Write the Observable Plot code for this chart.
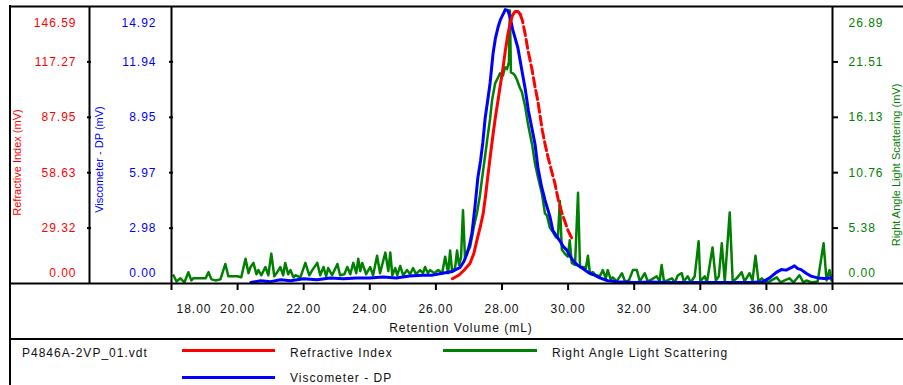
<!DOCTYPE html>
<html><head><meta charset="utf-8">
<script src="https://cdn.jsdelivr.net/npm/d3@7"></script>
<script src="https://cdn.jsdelivr.net/npm/@observablehq/plot@0.6"></script>
<style>
body{margin:0;background:#fff;}
#wrap{position:relative;width:903px;height:385px;overflow:hidden;font-family:"Liberation Sans",Arial,sans-serif;background:#fff;}
#wrap svg{position:absolute;left:0;top:0;}
#leftline{position:absolute;left:9px;top:5px;width:2px;height:380px;background:#000;}
#legline{position:absolute;left:10px;top:338px;width:893px;height:2px;background:#000;}
#legend{position:absolute;left:0;top:339px;width:903px;height:46px;font-size:12px;letter-spacing:1px;color:#111;}
.lg-line{position:absolute;height:3px;}
.lg-text{position:absolute;line-height:14px;white-space:nowrap;}
</style></head>
<body>
<div id="wrap">
  <div id="plots"></div>
  <div id="leftline"></div>
  <div id="legline"></div>
  <div id="legend"></div>
</div>
<script>
// ---- data ----
const fileName = "P4846A-2VP_01.vdt";
const seriesNames = ["Refractive Index", "Viscometer - DP", "Right Angle Light Scattering"];
const seriesColors = ["#ff0000", "#0000ff", "#008000"];
const yTitles = ["Refractive Index (mV)", "Viscometer - DP (mV)", "Right Angle Light Scattering (mV)"];
const xTitle = "Retention Volume (mL)";
const xTicks = [18, 20, 22, 24, 26, 28, 30, 32, 34, 36, 38];
const riTicks = [0, 29.32, 58.63, 87.95, 117.27, 146.59];
const dpTicks = [0, 2.98, 5.97, 8.95, 11.94, 14.92];
const lsTicks = [0, 5.38, 10.76, 16.13, 21.51, 26.89];

const riX = [26.50,26.70,26.85,27.03,27.15,27.24,27.33,27.43,27.50,27.58,27.65,27.73,27.80,27.88,27.95,28.03,28.10,28.18,28.25,28.32,28.40,28.48,28.55,28.62,28.70,28.79,28.90,29.00,29.08,29.15,29.22,29.30,29.39,29.50,29.60,29.70,29.81,29.90,30.00,30.08,30.15];
const riY = [2.5,4.5,7.0,10.6,16,22.8,29,37,46,58,68,79,88,97,105,114,123,132,138,142,144,144,142.5,139,132,123,114,104,97,89,81,74,67,59.5,53,44.5,37.5,33,28,25,23];

const dpX = [20.40,20.70,21.00,21.30,21.60,22.00,22.40,22.80,23.20,23.60,24.00,24.40,24.80,25.20,25.60,25.90,26.20,26.50,26.73,26.85,26.94,27.02,27.09,27.18,27.27,27.35,27.42,27.49,27.57,27.64,27.73,27.80,27.88,27.95,28.03,28.10,28.18,28.25,28.32,28.40,28.48,28.55,28.62,28.70,28.80,28.90,29.00,29.09,29.20,29.30,29.45,29.54,29.65,29.75,29.85,29.96,30.05,30.15,30.28,30.40,30.53,30.66,30.80,30.96,31.20,31.50,32.00,32.50,33.00,33.50,34.00,34.50,35.00,35.50,35.90,36.10,36.30,36.45,36.60,36.75,36.85,36.95,37.05,37.20,37.35,37.55,37.75,37.97];
const dpY = [0.05,0.15,0.1,0.2,0.15,0.25,0.2,0.3,0.25,0.3,0.3,0.35,0.3,0.4,0.45,0.45,0.55,0.65,0.86,1.2,1.6,2.1,2.7,4.1,5.7,6.6,7.6,8.9,9.9,10.8,12.4,13.2,13.8,14.2,14.5,14.75,14.7,14.3,13.7,13.2,12.7,12.0,11.3,10.5,9.3,8.4,7.5,6.2,5.2,4.5,3.6,2.85,2.55,2.3,2.0,1.8,1.5,1.24,1.0,0.86,0.7,0.54,0.45,0.3,0.15,0.1,0.05,0.08,0.05,0.05,0.05,0.05,0.05,0.05,0.1,0.3,0.6,0.75,0.72,0.85,0.95,0.8,0.75,0.55,0.4,0.3,0.27,0.3];

const lsX = [18.06,18.15,18.27,18.39,18.51,18.60,18.66,18.88,19.03,19.12,19.21,19.33,19.48,19.63,19.72,19.87,19.99,20.11,20.24,20.33,20.39,20.48,20.57,20.63,20.72,20.84,20.93,21.02,21.11,21.20,21.29,21.38,21.44,21.53,21.60,21.69,21.75,21.90,22.05,22.17,22.26,22.41,22.50,22.60,22.68,22.74,22.86,23.02,23.10,23.23,23.32,23.41,23.50,23.59,23.65,23.71,23.77,23.89,24.01,24.10,24.22,24.31,24.47,24.56,24.62,24.68,24.77,24.83,24.92,25.01,25.13,25.22,25.31,25.40,25.52,25.61,25.67,25.76,25.82,25.95,26.07,26.19,26.28,26.37,26.43,26.49,26.58,26.64,26.70,26.76,26.82,26.88,26.94,27.03,27.09,27.15,27.24,27.33,27.40,27.49,27.55,27.64,27.70,27.79,27.88,27.94,28.03,28.09,28.15,28.21,28.24,28.27,28.33,28.39,28.45,28.54,28.60,28.70,28.79,28.91,29.00,29.09,29.21,29.30,29.36,29.45,29.54,29.63,29.69,29.75,29.81,29.90,29.99,30.05,30.11,30.21,30.30,30.36,30.45,30.54,30.60,30.66,30.75,30.84,30.96,31.05,31.14,31.20,31.29,31.35,31.47,31.63,31.72,31.84,31.96,32.08,32.17,32.32,32.41,32.53,32.68,32.77,32.83,32.90,33.00,33.14,33.23,33.32,33.44,33.50,33.62,33.71,33.83,33.95,34.00,34.13,34.20,34.37,34.47,34.56,34.65,34.74,34.89,34.98,35.10,35.25,35.34,35.49,35.58,35.67,35.76,35.86,35.98,36.10,36.31,36.43,36.55,36.70,36.82,37.00,37.12,37.21,37.37,37.55,37.73,37.82,37.91,37.97];
const lsY = [0.8,0.2,0.5,0.1,1.1,0.3,0.5,0.5,0.5,1.1,0.4,0.3,0.4,1.9,0.7,0.7,0.7,0.6,2.4,1.0,1.6,2.0,0.9,1.3,0.8,1.6,0.8,2.9,0.7,1.1,1.6,0.8,2.0,0.9,1.3,0.6,0.8,0.6,2.0,0.8,1.3,2.0,0.8,1.6,0.7,1.5,0.8,1.9,0.8,0.9,1.6,0.9,2.0,1.0,2.4,1.2,2.0,0.9,1.6,0.8,2.7,1.0,3.0,1.2,3.0,0.8,1.5,0.8,1.7,0.8,1.3,0.9,1.5,0.9,1.3,1.0,1.6,1.0,1.3,1.0,1.3,1.0,2.6,1.0,3.2,1.2,1.5,3.2,1.8,2.5,7.1,2.5,3.0,3.5,4.5,5.5,6.8,8.5,10.3,12.4,13.9,16.0,17.8,19.4,20.0,20.4,20.2,21.0,20.8,21.5,26.5,20.5,20.4,20.2,19.8,19.0,18.6,17.2,15.4,13.5,11.6,10.3,8.7,6.8,6.6,5.4,5.0,4.5,4.4,8.0,3.3,2.9,2.6,4.2,2.0,1.8,8.8,1.6,1.6,1.5,2.7,1.0,1.1,0.8,0.7,1.3,0.5,1.3,0.4,0.6,0.2,1.0,0.2,0.3,1.3,1.3,0.2,1.0,0.2,0.4,0.7,0.2,1.8,0.2,0.3,0.5,0.1,0.8,1.0,0.2,0.7,0.1,0.7,4.1,0.2,0.7,0.1,3.5,0.3,0.7,3.9,0.2,6.9,0.2,0.5,1.1,0.2,1.0,0.3,2.7,0.2,0.5,0.1,0.2,0.6,0.1,0.3,0.5,0.1,0.8,0.1,0.3,0.1,0.2,3.9,0.3,1.3,0.3];

// ---- tables ----
const ri = riX.map((x, i) => ({x, y: riY[i]}));
const dp = dpX.map((x, i) => ({x, y: dpY[i]}));
const ls = lsX.map((x, i) => ({x, y: lsY[i]}));

// ---- layout ----
const W = 903, H = 339;
const M = {top: 6, right: 71, bottom: 56, left: 171};
const frameW = W - M.left - M.right;
const frameH = H - M.top - M.bottom;
const fmt = d => d.toFixed(2);
const BLACK = "#000";
const TXT = "#111";

function makePlot(yMax, marks) {
  return Plot.plot({
    width: W, height: H,
    marginTop: M.top, marginRight: M.right, marginBottom: M.bottom, marginLeft: M.left,
    x: {domain: [xTicks[0], xTicks[xTicks.length - 1]], axis: null},
    y: {domain: [0, yMax], axis: null},
    style: {background: "transparent", fontFamily: "'Liberation Sans', Arial, sans-serif", fontSize: "12px", letterSpacing: "1px", overflow: "visible"},
    marks
  });
}

function axisLabels(ticks, color, anchor, dx, textAnchor) {
  const n = ticks.length;
  const common = {y: d => d, text: fmt, frameAnchor: anchor, dx, textAnchor, fill: color};
  return [
    Plot.text(ticks.slice(1, n - 1), common),
    Plot.text([ticks[0]], {...common, dy: -10}),
    Plot.text([ticks[n - 1]], {...common, dy: 17})
  ];
}

function yTitle(label, color, anchor, dx, dy) {
  return Plot.text([label], {text: d => d, frameAnchor: anchor, textAnchor: "middle", lineAnchor: "middle",
    rotate: -90, dx, dy, fill: color, fontSize: 11});
}

// light scattering (bottom layer, right axis)
const plotLS = makePlot(lsTicks[lsTicks.length - 1], [
  Plot.line(ls, {x: "x", y: "y", stroke: seriesColors[2], strokeWidth: 2.5}),
  Plot.ruleX([xTicks[xTicks.length - 1]], {stroke: BLACK, strokeWidth: 2}),
  Plot.tickY(lsTicks.slice(1, -1), {y: d => d, insetLeft: frameW - 6, dx: 6, stroke: BLACK, strokeWidth: 2}),
  ...axisLabels(lsTicks, seriesColors[2], "right", 16, "start"),
  yTitle(yTitles[2], seriesColors[2], "right", 64, 20)
]);

// viscometer
const plotDP = makePlot(dpTicks[dpTicks.length - 1], [
  Plot.line(dp, {x: "x", y: "y", stroke: seriesColors[1], strokeWidth: 3}),
  Plot.tickY(dpTicks.slice(1, -1), {y: d => d, insetRight: frameW - 4, dx: -2, stroke: BLACK, strokeWidth: 2}),
  ...axisLabels(dpTicks, seriesColors[1], "left", -15, "end"),
  yTitle(yTitles[1], seriesColors[1], "left", -72, 14.5)
]);

// refractive index (top layer, frame and x axis)
const plotRI = makePlot(riTicks[riTicks.length - 1], [
  Plot.ruleY([riTicks[0], riTicks[riTicks.length - 1]], {y: d => d, insetLeft: -(M.left - 10), insetRight: -M.right, stroke: BLACK, strokeWidth: 2}),
  Plot.ruleX([xTicks[0]], {stroke: BLACK, strokeWidth: 2}),
  Plot.ruleX([xTicks[0]], {dx: -82, stroke: BLACK, strokeWidth: 2}),
  Plot.tickY(riTicks.slice(1, -1), {y: d => d, insetRight: frameW - 4, dx: -84, stroke: BLACK, strokeWidth: 2}),
  Plot.tickX(xTicks, {x: d => d, insetTop: frameH - 7, dy: 7, stroke: BLACK, strokeWidth: 2}),
  Plot.line(ri.filter(d => d.x <= 28.55), {x: "x", y: "y", stroke: seriesColors[0], strokeWidth: 3}),
  Plot.line(ri.filter(d => d.x >= 28.55), {x: "x", y: "y", stroke: seriesColors[0], strokeWidth: 3, strokeDasharray: "9,4"}),
  ...axisLabels(riTicks, seriesColors[0], "left", -95, "end"),
  yTitle(yTitles[0], seriesColors[0], "left", -154, 17.5),
  Plot.text(xTicks.slice(1, -1), {x: d => d, text: fmt, frameAnchor: "bottom", dy: 29, fill: TXT}),
  Plot.text([xTicks[0]], {x: d => d, text: fmt, frameAnchor: "bottom", dy: 29, dx: 5, textAnchor: "start", fill: TXT}),
  Plot.text([xTicks[xTicks.length - 1]], {x: d => d, text: fmt, frameAnchor: "bottom", dy: 29, dx: -4, textAnchor: "end", fill: TXT}),
  Plot.text([xTitle], {text: d => d, frameAnchor: "bottom", dy: 48, dx: -41, fill: TXT})
]);

const holder = document.getElementById("plots");
[plotLS, plotDP, plotRI].forEach(p => holder.appendChild(p));
// rotated axis titles are narrower in the original
d3.selectAll("#plots svg text").filter(function() { return yTitles.includes(this.textContent); })
  .style("letter-spacing", "0px");

// ---- legend ----
const legend = d3.select("#legend");
const items = [
  {type: "text", text: fileName, left: 22, top: 7},
  {type: "line", color: seriesColors[0], left: 182, top: 10, width: 93},
  {type: "text", text: seriesNames[0], left: 290, top: 7},
  {type: "line", color: seriesColors[2], left: 443, top: 10, width: 94},
  {type: "text", text: seriesNames[2], left: 552, top: 7},
  {type: "line", color: seriesColors[1], left: 182, top: 37, width: 93},
  {type: "text", text: seriesNames[1], left: 290, top: 32}
];
items.forEach(it => {
  if (it.type === "line") {
    legend.append("div").attr("class", "lg-line")
      .style("left", it.left + "px").style("top", it.top + "px")
      .style("width", it.width + "px").style("background", it.color);
  } else {
    legend.append("div").attr("class", "lg-text")
      .style("left", it.left + "px").style("top", it.top + "px").text(it.text);
  }
});
</script>
</body></html>
